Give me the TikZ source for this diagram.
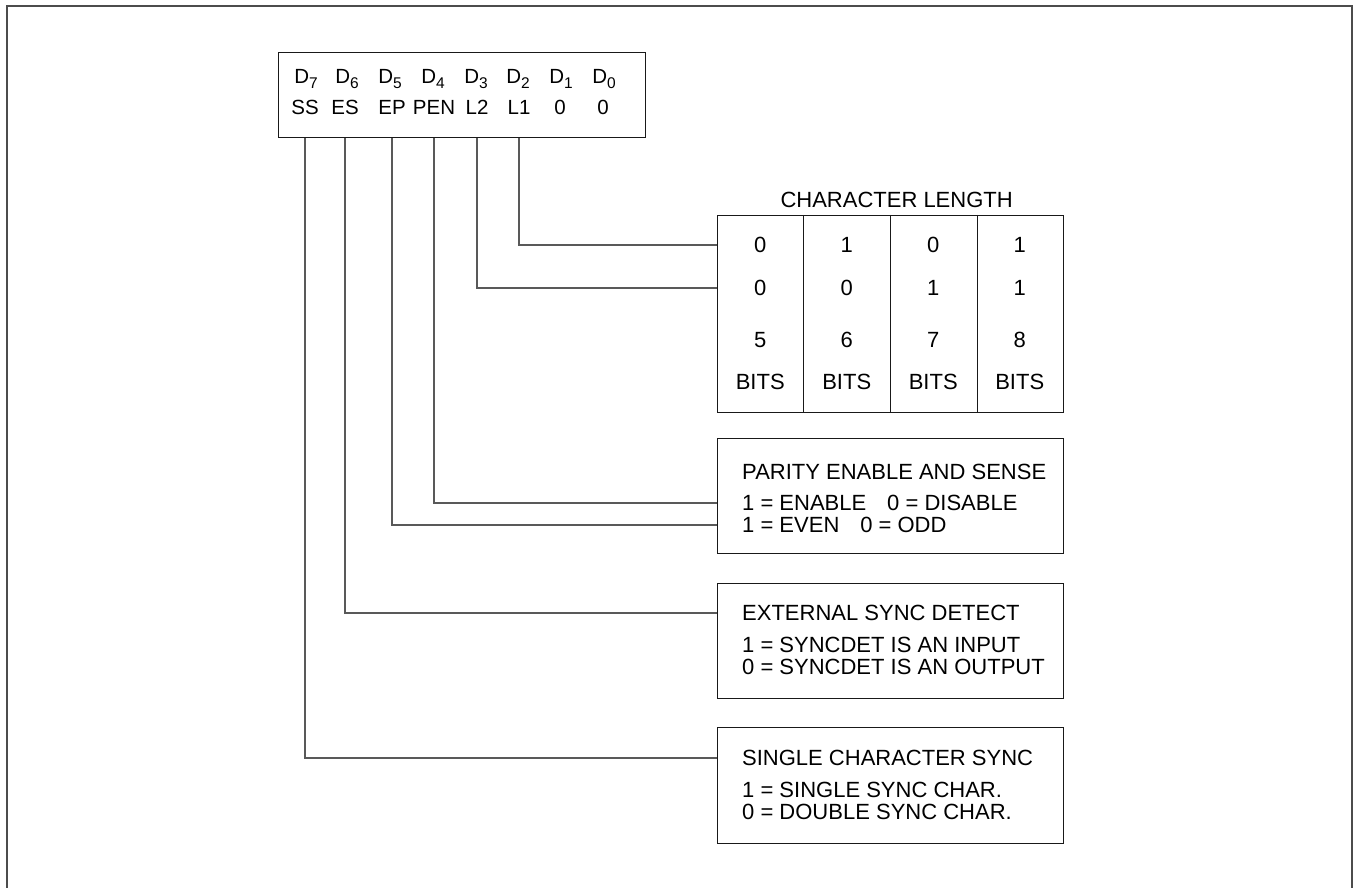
\documentclass[tikz,border=0pt]{standalone}
\usepackage{fontspec}
\setmainfont{Liberation Sans}
\usetikzlibrary{positioning, calc}

\tikzset{
  lbl/.style={inner sep=0pt, font=\fontsize{22}{25}\selectfont},
  reglbl/.style={inner sep=0pt, font=\fontsize{20.5}{24}\selectfont},
  framebox/.style={draw=black!90, line width=1.3pt},
  lead/.style={draw=black!65, line width=1.1pt},
}
\newcommand{\bitsub}[1]{\raisebox{-0.45ex}{\fontsize{15.5}{16}\selectfont #1}}

\begin{document}
\begin{tikzpicture}[x=1pt, y=-1pt]
    \useasboundingbox (0,0) rectangle (1353,888);
    % outer border, open at the bottom
    \draw[black!70, line width=2pt] (7,888) -- (7,6) -- (1352,6) -- (1352,888);

    % register with bit names
    \node (reg) [framebox, minimum width=367pt, minimum height=85pt, anchor=north west] at (278,52) {};
    \foreach \i/\x in {7/306, 6/347, 5/390, 4/433, 3/476, 2/518, 1/561, 0/604}
        \node (d\i) [reglbl] at (\x,79) {D\bitsub{\i}};
    \foreach \n/\t/\x in {ss/SS/305, es/ES/345, ep/EP/392, pen/PEN/434, ltwo/L2/477, lone/L1/519, bzero/0/560, bnull/0/603}
        \node (\n) [reglbl] at (\x,107) {\t};

    % character length table
    \node (clen) [framebox, minimum width=346pt, minimum height=197pt, anchor=north west] at (717,215) {};
    \node (clentitle) [lbl, above=7pt of clen, xshift=6pt] {CHARACTER LENGTH};
    \foreach \k in {1,2,3}
        \draw[framebox] ($(clen.north west)!\k/4!(clen.north east)$) -- ($(clen.south west)!\k/4!(clen.south east)$);
    \foreach \c/\a/\b/\w in {1/0/0/5, 2/1/0/6, 3/0/1/7, 4/1/1/8} {
        \node (la\c) [lbl] at ({717+86.5*(\c-0.5)},245) {\a};
        \node (lb\c) [lbl] at ({717+86.5*(\c-0.5)},288) {\b};
        \node (ln\c) [lbl] at ({717+86.5*(\c-0.5)},340) {\w};
        \node (lu\c) [lbl] at ({717+86.5*(\c-0.5)},382) {BITS};
    }

    % parity
    \node (par) [framebox, minimum width=346pt, minimum height=115pt, anchor=north west] at (717,438) {};
    \node (partitle) [lbl, anchor=west] at (742,472) {PARITY ENABLE AND SENSE};
    \node (parone) [lbl, anchor=west] at (742,503) {1 = ENABLE\hspace{0.95em}0 = DISABLE};
    \node (partwo) [lbl, anchor=west] at (742,525) {1 = EVEN\hspace{0.95em}0 = ODD};

    % external sync
    \node (ext) [framebox, minimum width=346pt, minimum height=115pt, anchor=north west] at (717,583) {};
    \node (exttitle) [lbl, anchor=west] at (742,613) {EXTERNAL SYNC DETECT};
    \node (extone) [lbl, anchor=west] at (742,645) {1 = SYNCDET IS AN INPUT};
    \node (exttwo) [lbl, anchor=west] at (742,667) {0 = SYNCDET IS AN OUTPUT};

    % single character sync
    \node (scs) [framebox, minimum width=346pt, minimum height=116pt, anchor=north west] at (717,727) {};
    \node (scstitle) [lbl, anchor=west] at (742,758) {SINGLE CHARACTER SYNC};
    \node (scsone) [lbl, anchor=west] at (742,790) {1 = SINGLE SYNC CHAR.};
    \node (scstwo) [lbl, anchor=west] at (742,812) {0 = DOUBLE SYNC CHAR.};

    % leads from the register bits
    \draw[lead] (reg.south -| lone) |- (la1 -| clen.west);
    \draw[lead] (reg.south -| ltwo) |- (lb1 -| clen.west);
    \draw[lead] (reg.south -| pen) |- (parone -| par.west);
    \draw[lead] (reg.south -| ep) |- (partwo -| par.west);
    \draw[lead] (reg.south -| es) |- (exttitle -| ext.west);
    \draw[lead] (reg.south -| ss) |- (scstitle -| scs.west);
\end{tikzpicture}
\end{document}
